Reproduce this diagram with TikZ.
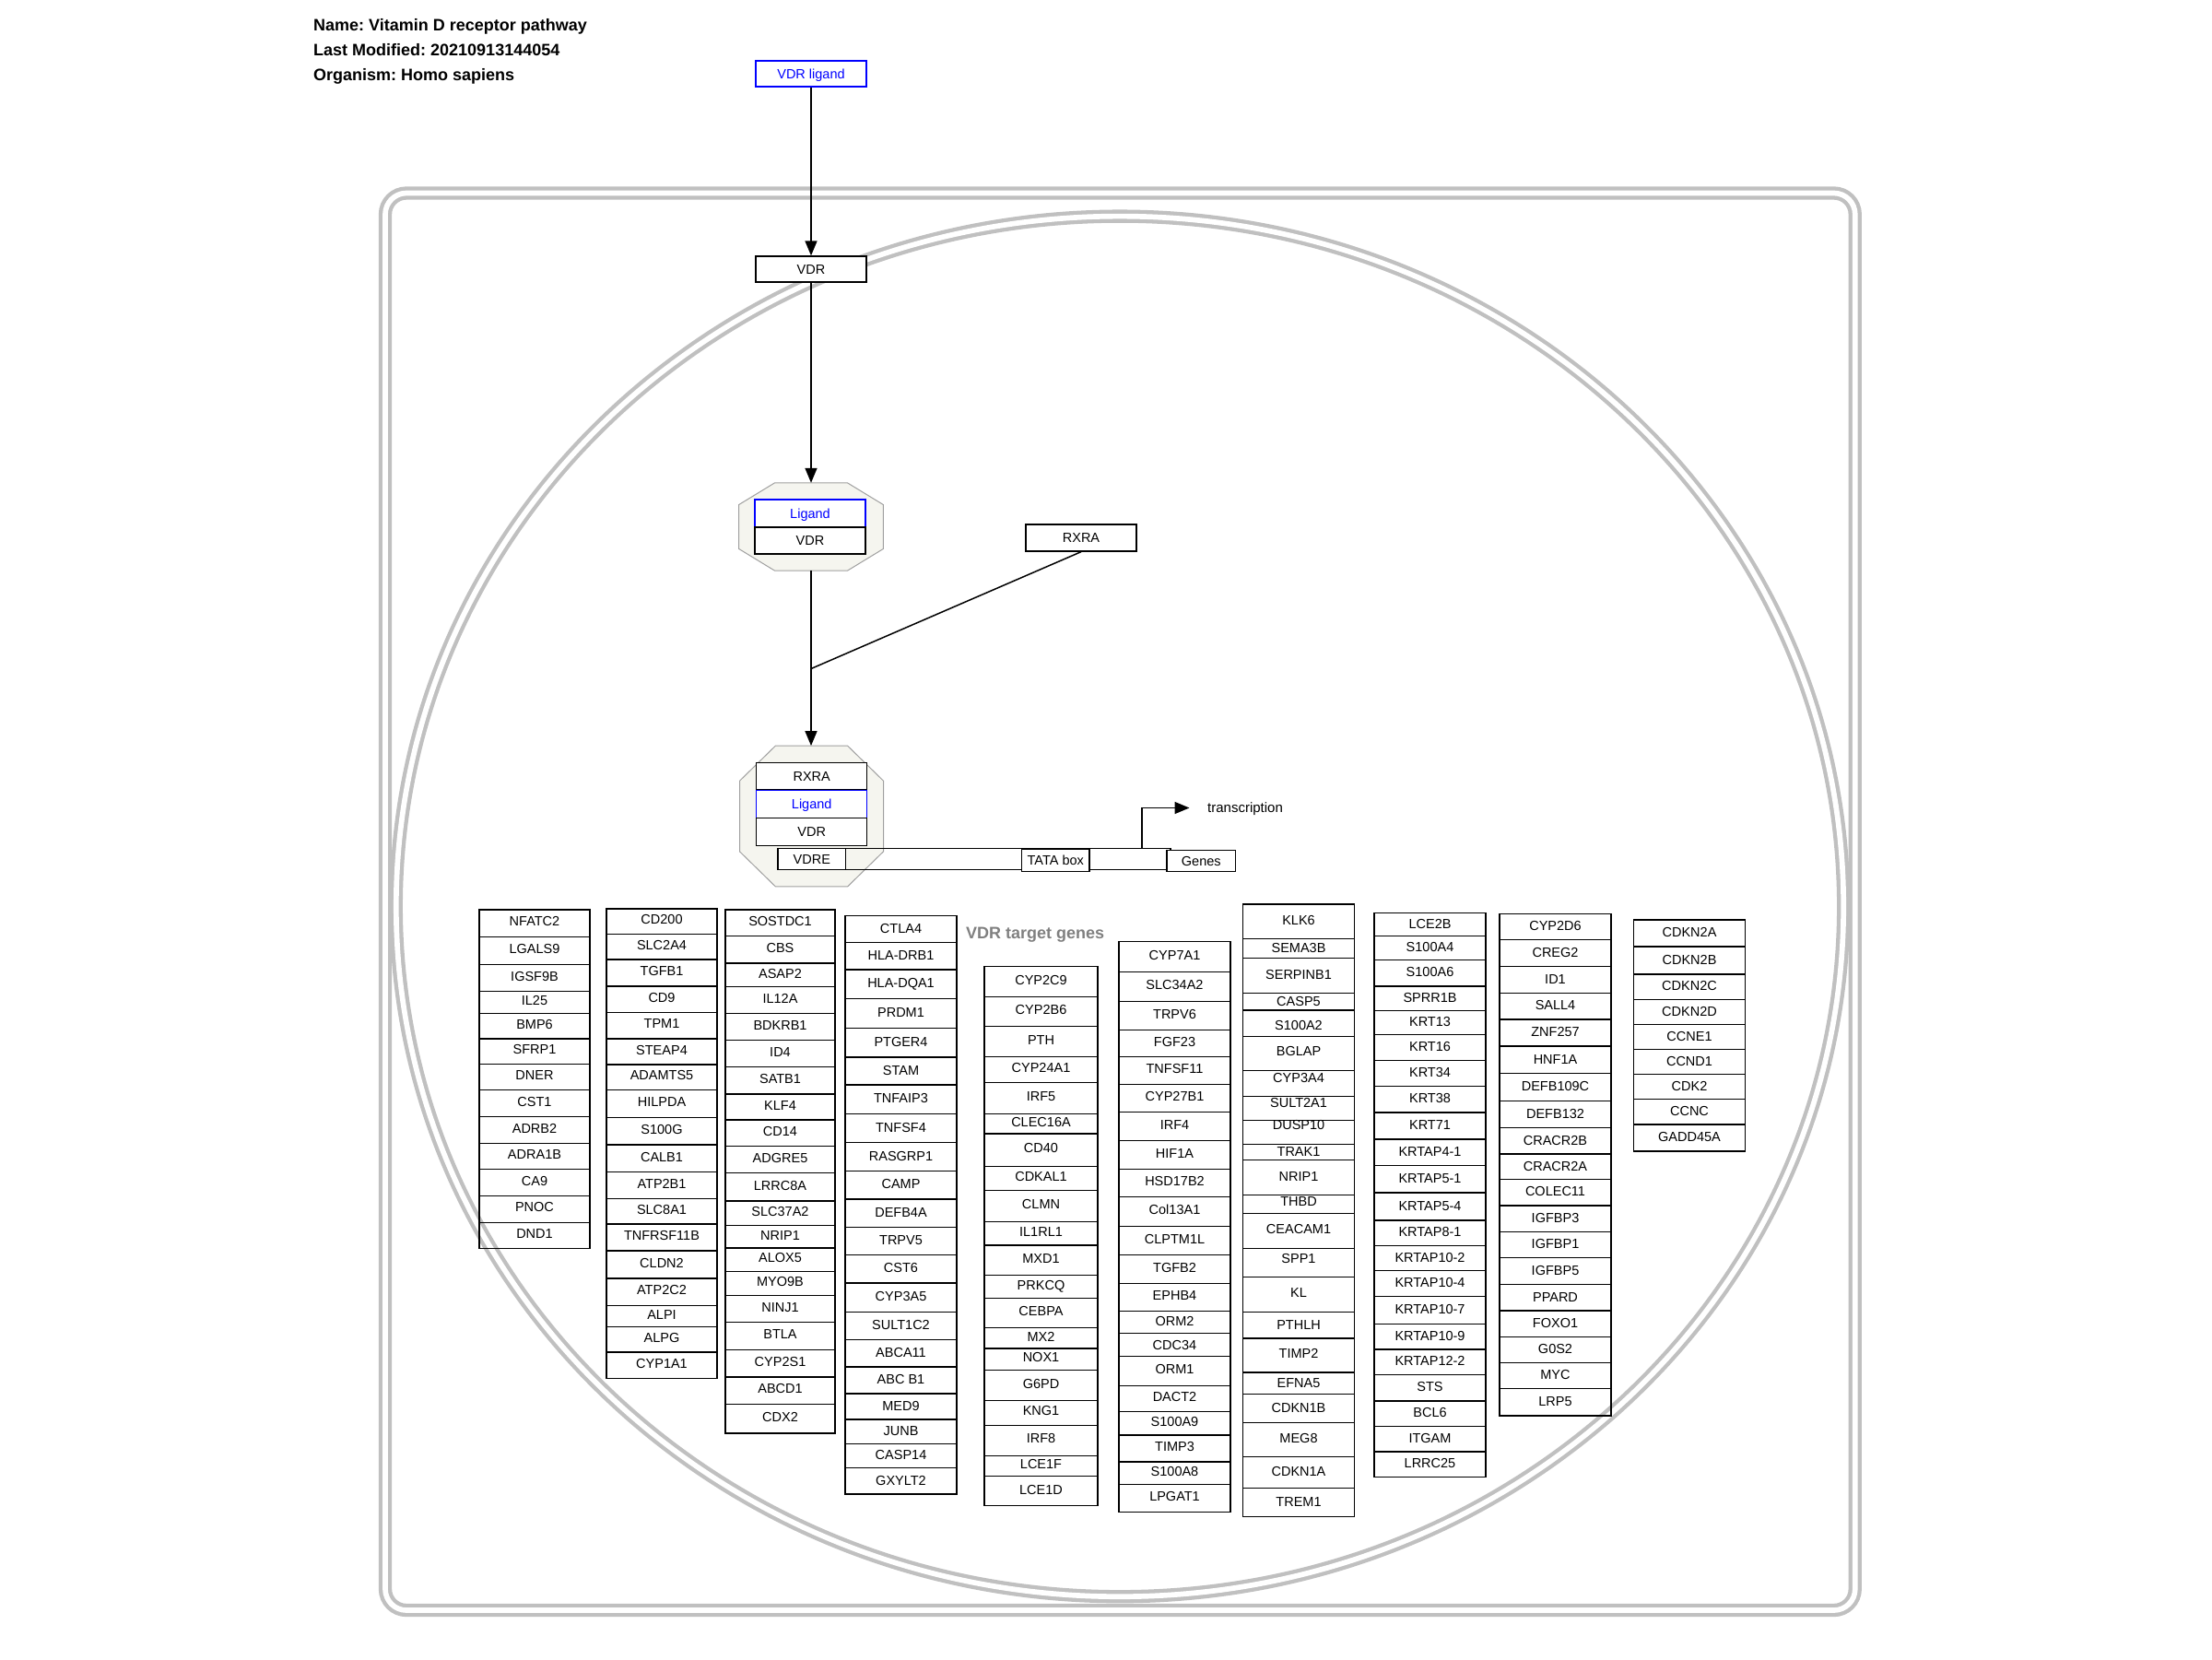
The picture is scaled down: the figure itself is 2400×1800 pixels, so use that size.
\documentclass[tikz,border=0pt]{standalone}
\usepackage{fontspec}
\setmainfont{Liberation Sans}
\usetikzlibrary{arrows.meta,calc}
\frenchspacing

\definecolor{frameg}{RGB}{192,192,192}
\definecolor{cplxfill}{RGB}{245,245,239}
\definecolor{cplxline}{RGB}{160,160,160}
\definecolor{ligblue}{RGB}{0,0,255}
\definecolor{labgray}{RGB}{128,128,128}

% one column of gene boxes: name, left x, right x, top y, {bottom/text shift/label, ...}
\newcommand\genecol[5]{%
  \pgfmathsetmacro\gcX{(#2+#3)/2}%
  \pgfmathsetmacro\gcW{#3-#2}%
  \xdef\gcTop{#4}%
  \foreach \yb/\dy/\lab [count=\i] in {#5} {%
    \pgfmathsetmacro\gcH{\yb-\gcTop}%
    \pgfmathsetmacro\gcY{(\yb+\gcTop)/2}%
    \pgfmathsetmacro\gcT{\gcY+\dy+4.2}%
    \node[genebox, minimum width=\gcW pt, minimum height=\gcH pt] (#1-\i) at (\gcX,\gcY) {};%
    \node[genetext] (#1-\i-t) at (\gcX,\gcT) {\lab};%
    \xdef\gcTop{\yb}%
  }%
}

% octagonal complex outline around an invisible node: node, corner cut x, corner cut y
\newcommand\octa[3]{%
  \draw[cplx] ([xshift=#2]#1.north west) -- ([xshift=-#2]#1.north east)
    -- ([yshift=-#3]#1.north east) -- ([yshift=#3]#1.south east)
    -- ([xshift=-#2]#1.south east) -- ([xshift=#2]#1.south west)
    -- ([yshift=#3]#1.south west) -- ([yshift=-#3]#1.north west) -- cycle;
}

\begin{document}
\begin{tikzpicture}[x=1pt,y=-1pt,
  frame/.style={draw=frameg, line width=4.3pt, double=white, double distance=5.7pt},
  cplx/.style={fill=cplxfill, draw=cplxline, line width=1pt},
  mol/.style={draw, line width=1.3pt, fill=white, inner sep=0pt, minimum width=120pt,
    text height=10.4pt, text depth=0pt, font=\fontsize{14.5}{17}\selectfont},
  lig/.style={mol, draw=ligblue, text=ligblue},
  genebox/.style={draw, line width=1.2pt, inner sep=0pt},
  genetext/.style={anchor=base, inner sep=0pt, font=\fontsize{14.5}{17}\selectfont},
  hdr/.style={anchor=base west, inner sep=0pt, font=\fontsize{18}{21}\selectfont\bfseries},
  arr/.style={line width=1.5pt, -{Triangle[length=16pt,width=13pt]}},
  link/.style={line width=1.5pt},
]
\useasboundingbox (0,0) rectangle (2400,1800);

% cell outline and nucleus
\draw[frame, rounded corners=23pt] (418,209.5) rectangle (2012.75,1747);
\draw[frame] (1215,983.4) ellipse [x radius=785.2pt, y radius=748.8pt];

% header
\node[hdr] (hname) at (340,33) {Name: Vitamin D receptor pathway};
\node[hdr] (hmod) at (340,60.5) {Last Modified: 20210913144054};
\node[hdr] (horg) at (340,87.5) {Organism: Homo sapiens};

% complexes
\node[minimum width=156.3pt, minimum height=95pt, inner sep=0pt] (cx1) at (880,571.5) {};
\node[minimum width=155.6pt, minimum height=152.4pt, inner sep=0pt] (cx2) at (880.5,885.5) {};
\octa{cx1}{39pt}{23.75pt}
\octa{cx2}{38.9pt}{38.1pt}

% promoter region
\node[draw, line width=1.3pt, minimum width=352.3pt, minimum height=22.6pt, inner sep=0pt] (dna) at (1093.85,932) {};

% molecules
\node[lig, minimum height=28pt] (vdrlig) at (880,80) {VDR ligand};
\node[mol, minimum height=28pt] (vdr) at (880,292) {VDR};
\node[lig, minimum height=30pt] (lig1) at (879,557) {Ligand};
\node[mol, minimum height=29pt] (vdr1) at (879,586.5) {VDR};
\node[mol, minimum height=29pt] (rxra) at (1173,583.5) {RXRA};
\node[mol, minimum height=29pt] (rxra2) at (880.7,842.2) {RXRA};
\node[lig, minimum height=29.6pt] (lig2) at (880.7,872.5) {Ligand};
\node[mol, minimum height=30pt] (vdr2) at (880.7,902.3) {VDR};
\node[mol, minimum width=73.7pt, minimum height=22.6pt] (vdre) at (880.85,932) {VDRE};
\node[mol, minimum width=73.5pt, minimum height=23.6pt] (tata) at (1145.25,933.5) {TATA box};
\node[mol, minimum width=74.5pt, minimum height=23pt] (genes) at (1303.25,934.2) {Genes};
\node[anchor=west, inner sep=0pt, text height=10.7pt, text depth=0pt,
  font=\fontsize{15}{18}\selectfont] (txt) at (1310,876.5) {transcription};

% connectors
\coordinate (j) at (880,725.5);
\coordinate (tss) at (1239,920.7);
\draw[arr] (vdrlig) -- (vdr);
\draw[arr] (vdr) -- (cx1.north -| vdr);
\draw[arr] (cx1.south -| vdr) -- (cx2.north -| vdr);
\draw[link] (rxra.south) -- (j);
\draw[arr, shorten >=19.5pt] (tss) |- (txt.west);

% target genes
\node[anchor=west, inner sep=0pt, text height=12.9pt, text depth=0pt, text=labgray,
  font=\fontsize{18}{21}\selectfont\bfseries] (tg) at (1048,1012) {VDR target genes};

\genecol{c1}{520}{640}{987}{1016.5/-1/NFATC2, 1046.4/-1/LGALS9, 1075.3/-1/IGSF9B,
  1099.4/-1/IL25, 1126.9/-1/BMP6, 1154.3/-1/SFRP1, 1182.5/-1/DNER, 1211.3/-1/CST1,
  1240.3/-1/ADRB2, 1268.8/-1/ADRA1B, 1297.3/-1/CA9, 1326.2/-1/PNOC, 1354.7/-1/DND1}

\genecol{c2}{658}{778}{986}{1013.5/-1/CD200, 1041/-1/SLC2A4, 1070/-1/TGFB1,
  1098.3/-1/CD9, 1126.9/-1/TPM1, 1155/-1/STEAP4, 1182.5/-1/ADAMTS5, 1212.8/-1/HILPDA,
  1242/-1/S100G, 1271.7/-1/CALB1, 1300.4/-1/ATP2B1, 1327.9/-1/SLC8A1,
  1357/-1/TNFRSF11B, 1387/-1/CLDN2, 1416.5/-1/ATP2C2, 1439.6/-1/ALPI, 1467/-1/ALPG,
  1495.6/-1/CYP1A1}

\genecol{c3}{787}{906}{987}{1015.3/-1/SOSTDC1, 1045/-1/CBS, 1070.7/-1/ASAP2,
  1099.5/-1/IL12A, 1128.2/-1/BDKRB1, 1157.4/-1/ID4, 1187/-1/SATB1, 1215/-1/KLF4,
  1243.2/-1/CD14, 1272.6/-1/ADGRE5, 1303/-1/LRRC8A, 1329.6/-1/SLC37A2, 1354/-1/NRIP1,
  1379.1/-1/ALOX5, 1405.8/-1/MYO9B, 1434.3/-1/NINJ1, 1464.5/-1/BTLA, 1494/-1/CYP2S1,
  1523.4/-1/ABCD1, 1555/-1/CDX2}

\genecol{c4}{917}{1038}{993.4}{1022.4/0/CTLA4, 1052/0/HLA-DRB1, 1083.5/0/HLA-DQA1,
  1115.8/0/PRDM1, 1147/0/PTGER4, 1177/0/STAM, 1208.4/0/TNFAIP3, 1239.8/0/TNFSF4,
  1270.4/0/RASGRP1, 1301/0/CAMP, 1331.7/0/DEFB4A, 1361.5/0/TRPV5, 1392/0/CST6,
  1423.4/0/CYP3A5, 1453.3/0/SULT1C2, 1483/0/ABCA11, 1512/0/ABC B1, 1540/0/MED9,
  1566.6/0/JUNB, 1592.6/0/CASP14, 1621/0/GXYLT2}

\genecol{c5}{1068}{1191}{1048.4}{1081.7/-1/CYP2C9, 1113.8/-1/CYP2B6, 1146.7/-1/PTH,
  1174.4/-1/CYP24A1, 1208.6/-1/IRF5, 1230/-1/CLEC16A, 1265.5/-1/CD40, 1291.1/-1/CDKAL1,
  1325.3/-1/CLMN, 1350.9/-1/IL1RL1, 1383.8/-1/MXD1, 1408.6/-1/PRKCQ, 1440.7/-1/CEBPA,
  1463/-1/MX2, 1486.3/-1/NOX1, 1519.3/-1/G6PD, 1546.2/-1/KNG1, 1579.1/-1/IRF8,
  1601.8/-1/LCE1F, 1633.8/-1/LCE1D}

\genecol{c6}{1214}{1335}{1021.5}{1054.5/-1/CYP7A1, 1086.8/-1/SLC34A2, 1117.6/-1/TRPV6,
  1146.7/-1/FGF23, 1176.6/-1/TNFSF11, 1206.5/-1/CYP27B1, 1237.7/-1/IRF4, 1268.5/-1/HIF1A,
  1298.4/-1/HSD17B2, 1330.4/-1/Col13A1, 1361.6/-1/CLPTM1L, 1392.4/-1/TGFB2,
  1422.3/-1/EPHB4, 1446.7/0/ORM2, 1471.5/1/CDC34, 1503.5/-1/ORM1, 1531.3/-1/DACT2,
  1556.9/-1/S100A9, 1586/-1/TIMP3, 1610.3/-1/S100A8, 1640.3/-1/LPGAT1}

\genecol{c7}{1348.5}{1469.5}{980.9}{1018.6/0/KLK6, 1039.5/0/SEMA3B, 1077.7/0/SERPINB1,
  1095.9/0/CASP5, 1124.1/3.5/S100A2, 1161.1/-1/BGLAP, 1189.3/-5/CYP3A4,
  1215.3/-5/SULT2A1, 1241.4/-6.7/DUSP10, 1258.8/0/TRAK1, 1296.5/0/NRIP1,
  1316.5/-2.5/THBD, 1354.3/-1.4/CEACAM1, 1385.5/-4/SPP1, 1423.8/-1.5/KL,
  1452/0/PTHLH, 1488.9/-1/TIMP2, 1512.8/0/EFNA5, 1543.2/0/CDKN1B, 1580.1/0/MEG8,
  1614.8/0/CDKN1A, 1645.2/0/TREM1}

\genecol{c8}{1491}{1612}{990.3}{1015.5/0/LCE2B, 1041.5/0/S100A4, 1069.9/0/S100A6,
  1096.7/0/SPRR1B, 1122.7/0/KRT13, 1150.3/0/KRT16, 1178.6/0/KRT34, 1206.9/0/KRT38,
  1236/0/KRT71, 1264.3/0/KRTAP4-1, 1294/0/KRTAP5-1, 1323.9/0/KRTAP5-4,
  1351.5/0/KRTAP8-1, 1378.3/0/KRTAP10-2, 1406.7/0/KRTAP10-4, 1436.5/0/KRTAP10-7,
  1464/0/KRTAP10-9, 1491.5/0/KRTAP12-2, 1519.9/0/STS, 1547.4/0/BCL6, 1574.9/0/ITGAM,
  1602.6/0/LRRC25}

\genecol{c9}{1627}{1748}{991.8}{1019.4/0/CYP2D6, 1048.5/0/CREG2, 1077.5/0/ID1,
  1105.9/0/SALL4, 1135/0/ZNF257, 1164.8/0/HNF1A, 1194.6/0/DEFB109C, 1223.8/0/DEFB132,
  1252/0/CRACR2B, 1279.6/0/CRACR2A, 1307.9/0/COLEC11, 1336.2/0/IGFBP3,
  1364.6/0/IGFBP1, 1393.7/0/IGFBP5, 1422/0/PPARD, 1450.3/0/FOXO1, 1478.6/0/G0S2,
  1506.1/0/MYC, 1536/0/LRP5}

\genecol{c10}{1772.5}{1893.5}{998}{1027/0/CDKN2A, 1056.9/0/CDKN2B, 1084.4/0/CDKN2C,
  1111.2/0/CDKN2D, 1138.8/0/CCNE1, 1165.6/0/CCND1, 1192.3/0/CDK2, 1219.9/0/CCNC,
  1249/0/GADD45A}

\end{tikzpicture}
\end{document}
